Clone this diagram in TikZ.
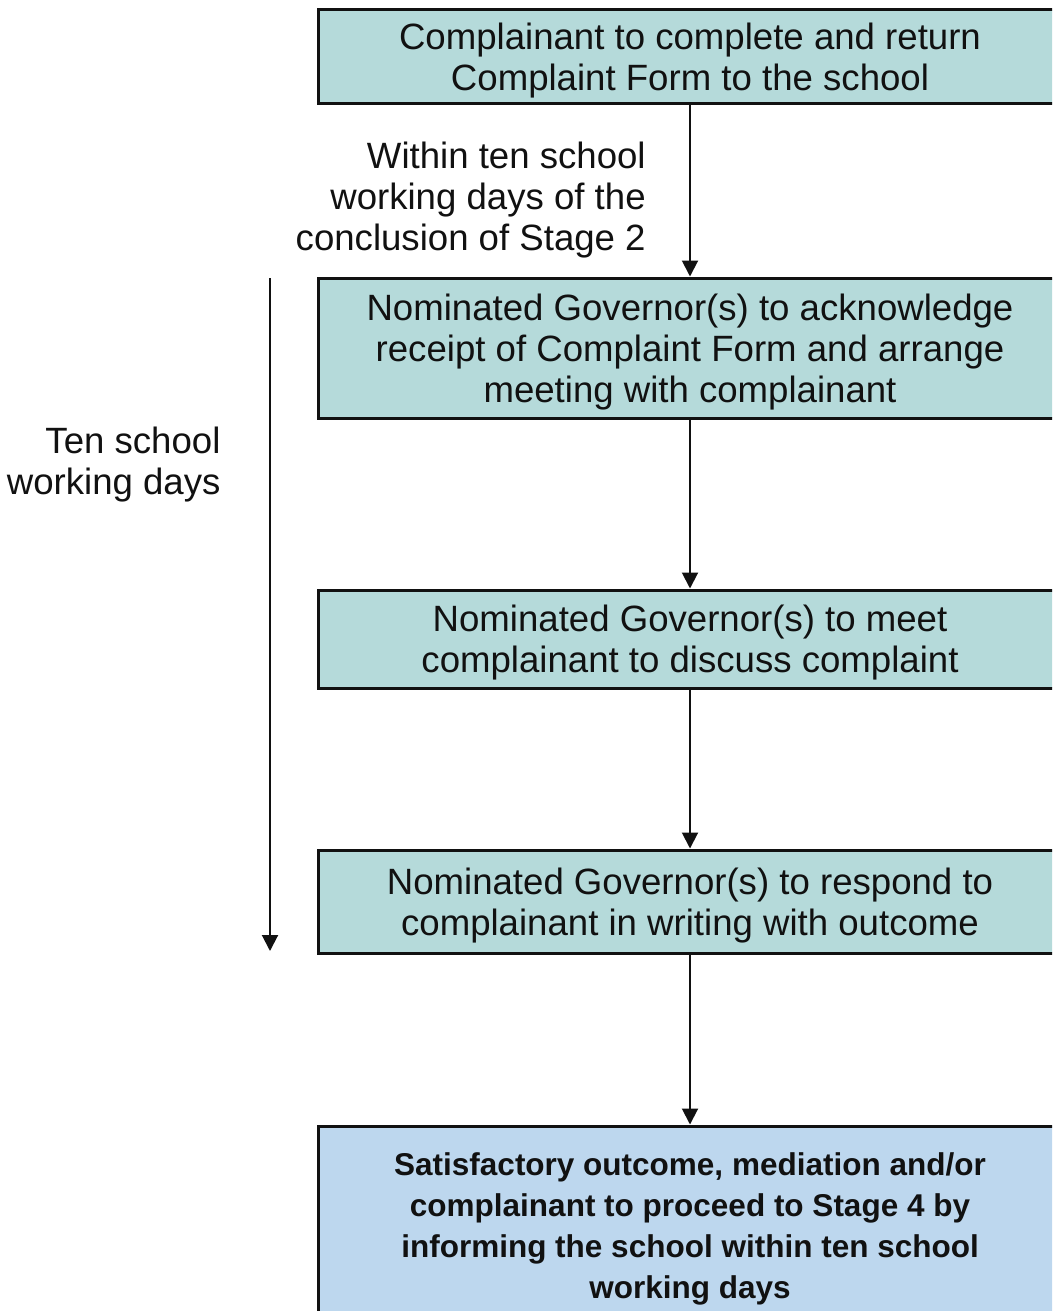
\documentclass[tikz,border=0pt]{standalone}
\usepackage{fontspec}
\setmainfont{Liberation Sans}
\usetikzlibrary{arrows.meta,positioning}
\definecolor{cpink}{HTML}{111111}
\definecolor{cpteal}{HTML}{B5DADA}
\definecolor{cpblue}{HTML}{BDD7EE}
\tikzset{
  cp text/.style={font=\fontsize{36.6}{41}\selectfont, text=cpink, text depth=0pt},
  cp box/.style={draw=cpink, line width=3pt, fill=cpteal, minimum width=744pt,
    align=center, inner sep=0pt, cp text},
  cp final/.style={cp box, fill=cpblue, font=\fontsize{31.5}{41}\selectfont\bfseries},
  cp arrow/.style={-{Triangle[length=16pt,width=16pt]}, line width=2pt, draw=cpink},
  cp note/.style={cp text, align=right}
}

\begin{document}
\begin{tikzpicture}[x=1pt, y=-1pt]
  \clip (0,0) rectangle (1052,1311);
  \node[cp box, minimum height=94pt] (form) at (690,57) {Complainant to complete and return\\Complaint Form to the school};
  \node[cp box, minimum height=140pt] (ack) at (690,348) {Nominated Governor(s) to acknowledge\\receipt of Complaint Form and arrange\\meeting with complainant};
  \node[cp box, minimum height=98pt] (meet) at (690,639) {Nominated Governor(s) to meet\\complainant to discuss complaint};
  \node[cp box, minimum height=103pt] (reply) at (690,901.5) {Nominated Governor(s) to respond to\\complainant in writing with outcome};
  \node[cp final, minimum height=200pt] (outcome) at (690,1226) {Satisfactory outcome, mediation and/or\\complainant to proceed to Stage 4 by\\informing the school within ten school\\working days};
  \draw[cp arrow] (form) -- node[cp note, left=40pt, yshift=-5pt] (within) {Within ten school\\working days of the\\conclusion of Stage 2} (ack);
  \draw[cp arrow] (ack) -- (meet);
  \draw[cp arrow] (meet) -- (reply);
  \draw[cp arrow] (reply) -- (outcome);
  % ten day span
  \coordinate (span top) at (270,278);
  \coordinate (span end) at (270,951);
  \draw[cp arrow] (span top) -- (span end);
  \node[cp note, anchor=east] (tendays) at (224,461) {Ten school\\working days};
\end{tikzpicture}
\end{document}
